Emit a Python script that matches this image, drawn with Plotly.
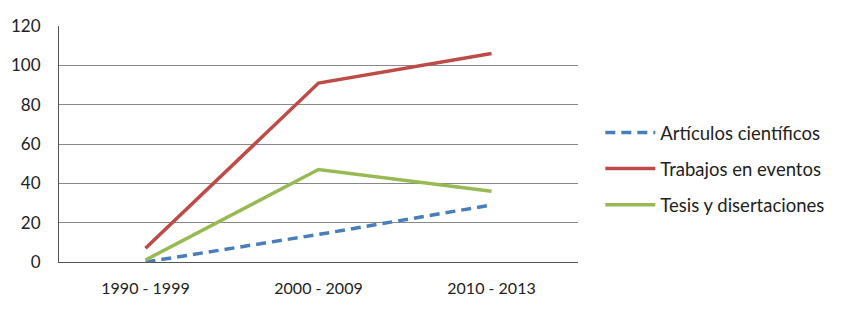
import plotly.graph_objects as go

categories = ["1990 - 1999", "2000 - 2009", "2010 - 2013"]
articulos = [0, 14, 29]
trabajos = [7, 91, 106]
tesis = [1, 47, 36]
y_ticks = [0, 20, 40, 60, 80, 100, 120]

FONT = "Lato, 'Open Sans', sans-serif"

fig = go.Figure()
fig.add_trace(go.Scatter(x=categories, y=articulos, mode="lines", name="Artículos científicos",
                         line=dict(color="#4A7EBB", width=3.5, dash="10px,6px"), legendgroup="a"))
fig.add_trace(go.Scatter(x=categories, y=trabajos, mode="lines", name="Trabajos en eventos",
                         line=dict(color="#BE4B48", width=3.5), legendgroup="b"))
fig.add_trace(go.Scatter(x=categories, y=tesis, mode="lines", name="Tesis y disertaciones",
                         line=dict(color="#98B954", width=3.5), legendgroup="c"))

fig.update_layout(
    width=850, height=320,
    margin=dict(l=51, r=280, t=18, b=66, autoexpand=False),
    paper_bgcolor="white", plot_bgcolor="white",
    font=dict(family=FONT, size=16, color="#222"),
    showlegend=True,
    legend=dict(x=1.043, y=0.394, xanchor="left", yanchor="middle",
                font=dict(family=FONT, size=18.5, color="#222"),
                itemwidth=50, tracegroupgap=9, bgcolor="rgba(0,0,0,0)"),
)
fig.update_xaxes(type="category", range=[-0.5, 2.5], showgrid=False,
                 showline=True, linecolor="#555", linewidth=1, automargin=False,
                 ticks="", ticklabelstandoff=12, zeroline=False,
                 tickfont=dict(size=16))
fig.update_yaxes(range=[0, 120], tickvals=y_ticks, showgrid=True, gridcolor="#888", gridwidth=1,
                 showline=True, linecolor="#555", linewidth=1, automargin=False,
                 ticks="", ticklabelstandoff=14, zeroline=False,
                 tickfont=dict(size=17))

fig.write_html("out.html")
